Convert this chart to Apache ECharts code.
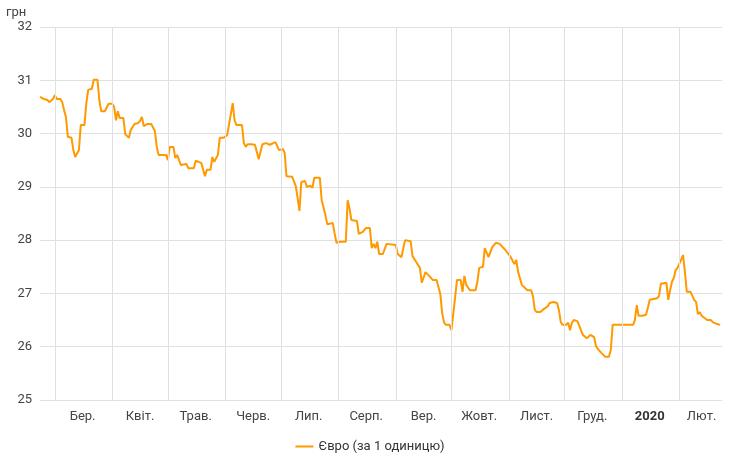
<!DOCTYPE html>
<html>
<head>
<meta charset="utf-8">
<script src="https://cdn.jsdelivr.net/npm/echarts@6/dist/echarts.min.js"></script>
<style>html,body{margin:0;padding:0;background:#fff}#chart-0{width:740px;height:464px}</style>
</head>
<body>
<div id="chart-0"></div>
<script>
var startDate = '2019-02-21';
var endDate = '2020-02-24';
// days after startDate
var days = [0,2,4,5,7,8,9,11,12,13,14,15,16,17,18,19,21,22,23,24,25,26,28,29,31,32,33,35,37,39,40,41,42,43,45,46,48,49,51,53,54,55,56,58,60,62,63,64,68,69,70,72,73,74,76,79,80,83,84,85,87,89,90,92,93,94,96,97,99,101,104,105,106,109,110,111,112,114,116,118,119,120,121,122,124,125,127,129,131,132,133,136,138,139,140,141,143,144,146,147,148,151,152,154,155,158,159,160,162,165,166,167,168,171,172,174,176,178,179,180,181,182,183,185,187,188,192,193,195,197,200,201,203,205,206,207,208,210,212,214,216,217,218,219,221,222,223,224,225,227,228,229,230,232,235,236,237,239,240,241,242,244,246,248,249,251,252,254,255,256,257,258,260,261,263,265,266,267,268,270,272,273,274,275,276,277,279,280,281,282,284,285,286,287,288,290,291,292,293,294,295,297,299,300,301,303,305,307,308,309,314,320,321,322,323,325,327,328,329,330,333,334,335,338,339,340,341,342,343,344,347,348,349,351,353,354,355,356,357,360,362,363,365,367];
var euro = [30.69,30.65,30.63,30.59,30.65,30.72,30.65,30.65,30.59,30.44,30.31,29.94,29.94,29.92,29.69,29.56,29.69,30.16,30.16,30.16,30.57,30.82,30.84,31.01,31.01,30.63,30.42,30.42,30.56,30.56,30.50,30.25,30.42,30.29,30.29,29.99,29.92,30.07,30.18,30.20,30.24,30.31,30.14,30.18,30.18,30.05,29.75,29.60,29.60,29.50,29.75,29.75,29.54,29.60,29.41,29.43,29.35,29.35,29.49,29.50,29.45,29.20,29.32,29.32,29.56,29.47,29.60,29.92,29.92,29.97,30.57,30.25,30.16,30.16,29.82,29.75,29.80,29.80,29.79,29.52,29.50,29.80,29.82,29.82,29.79,29.77,29.84,29.69,29.71,29.64,29.20,29.19,29.02,28.79,28.55,29.09,29.11,29.00,29.02,28.98,29.17,29.17,28.75,28.47,28.30,28.32,28.12,27.95,27.97,27.97,28.75,28.60,28.38,28.36,28.12,28.15,28.23,28.23,27.85,27.93,27.85,27.97,27.74,27.74,27.93,27.93,27.91,27.74,27.68,28.00,27.98,27.70,27.59,27.48,27.20,27.20,27.40,27.33,27.25,27.25,26.99,26.63,26.46,26.41,26.41,26.31,26.33,26.93,27.25,27.25,27.03,27.33,27.16,27.06,27.06,27.22,27.48,27.50,27.85,27.87,27.68,27.87,27.95,27.93,27.93,27.82,27.85,27.68,27.67,27.55,27.63,27.40,27.16,27.16,27.06,27.06,26.95,26.69,26.65,26.65,26.71,26.69,26.76,26.82,26.80,26.84,26.82,26.69,26.46,26.41,26.41,26.45,26.31,26.45,26.50,26.48,26.46,26.30,26.22,26.24,26.16,26.22,26.18,26.01,25.96,25.88,25.81,25.81,25.94,26.41,26.41,26.41,26.50,26.78,26.58,26.58,26.60,26.73,26.88,26.90,26.91,26.95,27.18,27.20,26.88,27.06,27.22,27.29,27.44,27.48,27.72,27.40,27.03,27.03,26.88,26.84,26.61,26.65,26.58,26.50,26.50,26.46,26.43,26.41];
var monthStarts = ['2019-03-01','2019-04-01','2019-05-01','2019-06-01','2019-07-01','2019-08-01','2019-09-01','2019-10-01','2019-11-01','2019-12-01','2020-01-01','2020-02-01'];
var labelDates = ['2019-03-16','2019-04-16','2019-05-16','2019-06-16','2019-07-16','2019-08-16','2019-09-16','2019-10-16','2019-11-16','2019-12-16','2020-01-16','2020-02-13'];
var monthLabels = ['Бер.','Квіт.','Трав.','Черв.','Лип.','Серп.','Вер.','Жовт.','Лист.','Груд.','2020','Лют.'];

function ts(s) { return new Date(s + 'T00:00:00').getTime(); }
var t0 = ts(startDate);
var data = days.map(function(d, i) { return [t0 + d * 86400000, euro[i]]; });
var labelTimes = labelDates.map(ts);

var chart = echarts.init(document.getElementById('chart-0'));
chart.setOption({
    animation: false,
    textStyle: { fontFamily: 'Roboto' },
    grid: { left: 40, right: 18, top: 27, bottom: 64 },
    graphic: [{ type: 'text', left: 6, top: 6, style: { text: 'грн', fill: '#444', font: '13px Roboto' } }],
    legend: {
        bottom: 6,
        itemWidth: 18,
        icon: 'path://M0,0H18V2H0Z',
        textStyle: { color: '#333', fontSize: 13 },
        data: ['Євро (за 1 одиницю)']
    },
    xAxis: {
        type: 'value',
        min: t0,
        max: ts(endDate),
        axisLine: { show: false },
        axisTick: { show: false },
        splitLine: { show: false },
        axisLabel: {
            customValues: labelTimes,
            color: '#444',
            fontSize: 13,
            margin: 10,
            formatter: function(v) {
                var i = labelTimes.indexOf(v);
                if (i < 0) return '';
                return monthLabels[i] === '2020' ? '{b|2020}' : monthLabels[i];
            },
            rich: { b: { fontWeight: 'bold', fontSize: 13, color: '#333' } }
        }
    },
    yAxis: {
        type: 'value',
        min: 25,
        max: 32,
        interval: 1,
        axisLine: { show: false },
        axisTick: { show: false },
        axisLabel: { color: '#444', fontSize: 13 },
        splitLine: { lineStyle: { color: '#e0e0e0' } }
    },
    series: [{
        name: 'Євро (за 1 одиницю)',
        type: 'line',
        showSymbol: false,
        color: '#ff9900',
        lineStyle: { width: 2 },
        data: data,
        markLine: {
            silent: true,
            symbol: 'none',
            label: { show: false },
            lineStyle: { color: '#e0e0e0', type: 'solid', width: 1 },
            data: monthStarts.map(function(s) { return { xAxis: ts(s) }; })
        }
    }]
});
</script>
</body>
</html>
